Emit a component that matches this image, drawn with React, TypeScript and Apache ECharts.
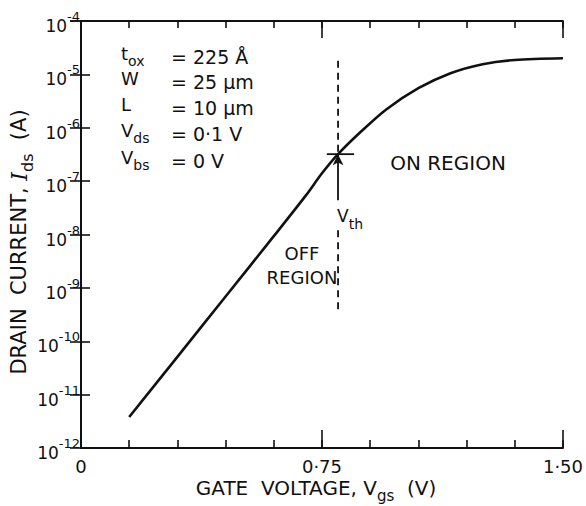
import React, { useEffect, useRef } from "react";
import * as echarts from "echarts";

// Gate voltage (V) and drain current (A)
const VGS = [0.15, 0.3, 0.45, 0.6, 0.7, 0.75, 0.8, 0.87, 0.95, 1.05, 1.15, 1.25, 1.35, 1.5];
const IDS = [3.8e-12, 5.1e-11, 6.9e-10, 9.3e-9, 5.4e-8, 1.4e-7, 3.2e-7, 8.3e-7, 2.2e-6, 5.5e-6, 1.05e-5, 1.55e-5, 1.86e-5, 2.0e-5];

// Threshold annotation
const VTH = [0.8];
const ITH = [3.2e-7];
const DASH_UPPER = [1.8e-5, 3.2e-7];
const DASH_LOWER = [1.2e-8, 3.2e-10];
const ARROW_FROM = [4.4e-8];
const VTH_TICK = [0.765, 0.85];

// Axes
const X_MIN = 0;
const X_MAX = 1.5;
const X_STEP = 0.15;
const X_LABELS: Record<string, string> = { "0": "0", "0.75": "0·75", "1.5": "1·50" };
const Y_MIN = 1e-12;
const Y_MAX = 1e-4;

// Device parameters text
const PARAM_NAMES = [
  ["t", "ox"],
  ["W", ""],
  ["L", ""],
  ["V", "ds"],
  ["V", "bs"],
];
const PARAM_VALUES = ["= 225 Å", "= 25 µm", "= 10 µm", "= 0·1 V", "= 0 V"];

const FONT = "'DejaVu Sans', sans-serif";

export default function App() {
  const ref = useRef<HTMLDivElement>(null);
  useEffect(() => {
    if (!ref.current) return;
    const chart = echarts.init(ref.current, undefined, { renderer: "svg" });

    const black = "#111";
    const curve = VGS.map((v, i) => [v, IDS[i]]);

    const baseX = {
      type: "value",
      min: X_MIN,
      max: X_MAX,
      interval: X_STEP,
      splitLine: { show: false },
    };

    const rowY = [56, 81, 107, 133, 160];
    const graphics: any[] = [];
    PARAM_NAMES.forEach((n, i) => {
      graphics.push({
        type: "text",
        x: 121,
        y: rowY[i],
        silent: true,
        style: {
          text: n[1] ? `{m|${n[0]}}{s|${n[1]}}` : `{m|${n[0]}}`,
          align: "left",
          verticalAlign: "middle",
          fill: black,
          rich: {
            m: { fontSize: 18, fontFamily: FONT, fill: black, padding: [0, 0, 6, 0] },
            s: { fontSize: 14, fontFamily: FONT, fill: black, padding: [10, 0, 0, 0] },
          },
        },
      });
      graphics.push({
        type: "text",
        x: 171,
        y: rowY[i] + 1,
        silent: true,
        style: {
          text: PARAM_VALUES[i],
          align: "left",
          verticalAlign: "middle",
          fill: black,
          fontSize: 19,
          fontFamily: FONT,
        },
      });
    });

    graphics.push({
      type: "text",
      x: 448,
      y: 163,
      silent: true,
      style: { text: "ON REGION", align: "center", verticalAlign: "middle", fill: black, fontSize: 20, fontFamily: FONT },
    });
    graphics.push({
      type: "text",
      x: 302,
      y: 265,
      silent: true,
      style: {
        text: "OFF\nREGION",
        align: "center",
        verticalAlign: "middle",
        fill: black,
        fontSize: 18,
        lineHeight: 24,
        fontFamily: FONT,
      },
    });
    graphics.push({
      type: "text",
      x: 350,
      y: 219,
      silent: true,
      style: {
        text: "{m|V}{s|th}",
        align: "center",
        verticalAlign: "middle",
        fill: black,
        rich: {
          m: { fontSize: 17, fontFamily: FONT, fill: black, padding: [0, 0, 6, 0] },
          s: { fontSize: 14, fontFamily: FONT, fill: black, padding: [10, 0, 0, 0] },
        },
      },
    });
    graphics.push({
      type: "text",
      x: 22,
      y: 242,
      rotation: Math.PI / 2,
      silent: true,
      style: {
        text: "{m|DRAIN  CURRENT, }{i|I}{s|ds}{m|  (A)}",
        align: "center",
        verticalAlign: "middle",
        fill: black,
        rich: {
          m: { fontSize: 21, fontFamily: FONT, fill: black, padding: [0, 0, 6, 0] },
          i: { fontSize: 22, fontFamily: "'DejaVu Serif', serif", fontStyle: "italic", fill: black, padding: [0, 0, 6, 0] },
          s: { fontSize: 16, fontFamily: FONT, fill: black, padding: [10, 0, 0, 0] },
        },
      },
    });
    graphics.push({
      type: "text",
      x: 316,
      y: 491,
      silent: true,
      style: {
        text: "{m|GATE  VOLTAGE, V}{s|gs}{m|  (V)}",
        align: "center",
        verticalAlign: "middle",
        fill: black,
        rich: {
          m: { fontSize: 20, fontFamily: FONT, fill: black, padding: [0, 0, 6, 0] },
          s: { fontSize: 15, fontFamily: FONT, fill: black, padding: [10, 0, 0, 0] },
        },
      },
    });

    const option: any = {
      animation: false,
      backgroundColor: "#fff",
      grid: { left: 81, right: 19, top: 21, bottom: 58, containLabel: false },
      xAxis: [
        {
          ...baseX,
          position: "bottom",
          axisLine: { show: true, lineStyle: { color: black, width: 2 } },
          axisTick: { show: true, inside: true, length: 8, lineStyle: { color: black, width: 1.6 } },
          axisLabel: {
            show: true,
            margin: 9,
            color: black,
            fontSize: 18,
            fontFamily: FONT,
            showMinLabel: true,
            showMaxLabel: true,
            formatter: (v: number) => {
              const k = String(Math.round(v * 100) / 100);
              return X_LABELS[k] ?? "";
            },
          },
        },
        {
          ...baseX,
          position: "top",
          axisLine: { show: true, lineStyle: { color: black, width: 2 } },
          axisTick: { show: true, inside: true, length: 7, lineStyle: { color: black, width: 1.6 } },
          axisLabel: { show: false },
        },
        {
          ...baseX,
          interval: 0.75,
          position: "bottom",
          axisLine: { show: false },
          axisTick: { show: true, inside: true, length: 18, lineStyle: { color: black, width: 1.6 } },
          axisLabel: { show: false },
        },
        {
          ...baseX,
          interval: 0.75,
          position: "top",
          axisLine: { show: false },
          axisTick: { show: true, inside: true, length: 17, lineStyle: { color: black, width: 1.6 } },
          axisLabel: { show: false },
        },
      ],
      yAxis: [
        {
          type: "log",
          logBase: 10,
          min: Y_MIN,
          max: Y_MAX,
          position: "left",
          splitLine: { show: false },
          axisLine: { show: true, lineStyle: { color: black, width: 2 } },
          axisTick: { show: true, inside: true, length: 9, lineStyle: { color: black, width: 1.6 } },
          axisLabel: {
            show: true,
            margin: 1,
            color: black,
            formatter: (v: number) => {
              const e = Math.round(Math.log10(v));
              return `{b|10}{s|${e < 0 ? "-" : ""}${Math.abs(e)}}`;
            },
            rich: {
              b: { fontSize: 17, fontFamily: FONT, color: black, padding: [10, 0, 0, 0] },
              s: { fontSize: 13, fontFamily: FONT, color: black, padding: [0, 0, 9, 0] },
            },
          },
        },
        {
          type: "log",
          logBase: 10,
          min: Y_MIN,
          max: Y_MAX,
          position: "right",
          splitLine: { show: false },
          axisLine: { show: true, lineStyle: { color: black, width: 2 } },
          axisTick: { show: true, inside: true, length: 11, lineStyle: { color: black, width: 1.6 } },
          axisLabel: { show: false },
        },
      ],
      series: [
        {
          type: "line",
          data: curve,
          smooth: 0.3,
          symbol: "none",
          lineStyle: { color: black, width: 2.6 },
          silent: true,
        },
        {
          type: "line",
          data: [
            [VTH[0], DASH_UPPER[0]],
            [VTH[0], DASH_UPPER[1]],
          ],
          symbol: "none",
          lineStyle: { color: black, width: 1.8, type: [7, 5] },
          silent: true,
        },
        {
          type: "line",
          data: [
            [VTH[0], DASH_LOWER[0]],
            [VTH[0], DASH_LOWER[1]],
          ],
          symbol: "none",
          lineStyle: { color: black, width: 1.8, type: [7, 5] },
          silent: true,
        },
        {
          type: "line",
          data: [
            [VTH_TICK[0], ITH[0]],
            [VTH_TICK[1], ITH[0]],
          ],
          symbol: "none",
          lineStyle: { color: black, width: 1.8 },
          silent: true,
          markLine: {
            silent: true,
            symbol: ["none", "arrow"],
            symbolSize: [8, 11],
            label: { show: false },
            lineStyle: { color: black, width: 1.8, type: "solid" },
            data: [[{ coord: [VTH[0], ARROW_FROM[0]] }, { coord: [VTH[0], ITH[0]] }]],
          },
        },
      ],
      graphic: graphics,
    };

    chart.setOption(option);
    return () => chart.dispose();
  }, []);

  return <div ref={ref} style={{ position: "absolute", left: 0, top: 0, width: 586, height: 506 }} />;
}
